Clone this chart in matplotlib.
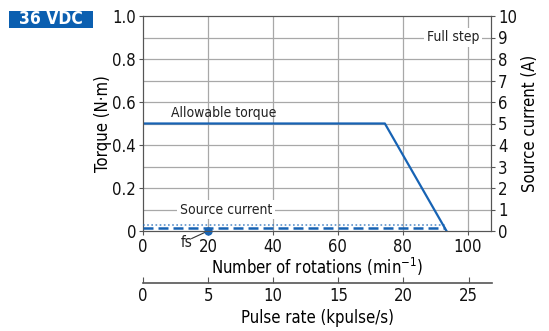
import matplotlib
matplotlib.use("Agg")
import matplotlib.pyplot as plt
from matplotlib.patches import Rectangle

plt.rcParams['font.family'] = ['DejaVu Sans']
plt.rcParams['font.stretch'] = 'condensed'

# data
torque_speed = [0, 74.5, 93.5]          # min^-1
torque_vals = [0.5, 0.5, 0.0]           # N·m
current_speed = [0, 93]                 # min^-1
current_dashed = [0.14, 0.14]           # A
current_dotted = [0.27, 0.27]           # A
fs_speed = 20
speed_ticks = [0, 20, 40, 60, 80, 100]
pulse_ticks = [0, 5, 10, 15, 20, 25]
torque_ticks = [0, 0.2, 0.4, 0.6, 0.8, 1.0]
torque_labels = ['0', '0.2', '0.4', '0.6', '0.8', '1.0']
current_ticks = list(range(0, 11))

blue = '#1763b4'
grid = '#a8a8a8'
spine = '#555555'
xmax = 107.2

fig = plt.figure(figsize=(5.49, 3.31), dpi=100)
ax = fig.add_axes([143 / 549, 1 - 231 / 331, 348 / 549, 215 / 331])
ax.set_xlim(0, xmax)
ax.set_ylim(0, 1.0)

for y in [i / 10 for i in range(1, 10)]:
    ax.axhline(y, color=grid, lw=0.9, zorder=1)
for x in speed_ticks[1:]:
    ax.axvline(x, color=grid, lw=0.9, zorder=1)

ax.plot(torque_speed, torque_vals, color=blue, lw=1.6, zorder=3)

ax2 = ax.twinx()
ax2.set_ylim(0, 10)
ax2.plot(current_speed, current_dashed, color=blue, lw=1.8, ls=(0, (4, 2)), zorder=3)
ax2.plot(current_speed, current_dotted, color=blue, lw=1.2, ls=(0, (1, 1.5)), alpha=0.7, zorder=3)

ax.plot([fs_speed], [0], 'o', color=blue, ms=5, clip_on=False, zorder=5)
ax.plot([15, fs_speed], [-0.035, 0], color='#333333', lw=0.8, clip_on=False, zorder=4)
ax.text(13.5, -0.055, 'fs', fontsize=11, ha='center', va='center', color='#222222')

ax.text(25, 0.55, 'Allowable torque', fontsize=10, ha='center', va='center', color='#222222')
ax.text(25.5, 0.1, 'Source current', fontsize=10, ha='center', va='center', color='#222222',
        bbox=dict(facecolor='white', edgecolor='none', pad=2), zorder=4)
ax.text(95.5, 0.9, 'Full step', fontsize=10, ha='center', va='center', color='#222222',
        bbox=dict(facecolor='white', edgecolor='none', pad=2), zorder=4)

for a in (ax, ax2):
    for s in a.spines.values():
        s.set_color(spine)
ax.set_xticks(speed_ticks)
ax.set_yticks(torque_ticks)
ax.set_yticklabels(torque_labels)
ax2.set_yticks(current_ticks)
ax.tick_params(axis='both', labelsize=12, colors=spine, labelcolor='#111111', length=3, pad=2)
ax2.tick_params(axis='y', labelsize=12, colors=spine, labelcolor='#111111', length=3, pad=2)
ax.set_ylabel('Torque (N·m)', fontsize=12, labelpad=0)
ax2.set_ylabel('Source current (A)', fontsize=12, labelpad=3)
ax.set_xlabel('Number of rotations (min$^{-1}$)', fontsize=12, labelpad=0)

# pulse rate axis
axp = fig.add_axes([143 / 549, 1 - 283 / 331, 349 / 549, 0.001])
axp.set_xlim(0, xmax / 4)
axp.set_yticks([])
for k in ('top', 'left', 'right'):
    axp.spines[k].set_visible(False)
axp.spines['bottom'].set_color(spine)
axp.spines['bottom'].set_linewidth(1.2)
axp.set_xticks(pulse_ticks)
axp.tick_params(axis='x', direction='in', length=4, labelsize=12, colors=spine, labelcolor='#111111', pad=3)
axp.set_xlabel('Pulse rate (kpulse/s)', fontsize=12, labelpad=3)
axp.patch.set_alpha(0)

# badge
fig.patches.append(Rectangle((9 / 549, 1 - 28 / 331), 84 / 549, 17 / 331, transform=fig.transFigure,
                             facecolor='#0b5fb0', edgecolor='none'))
fig.text(51 / 549, 1 - 19.5 / 331, '36 VDC', color='white', fontsize=12.5, fontweight='bold',
         ha='center', va='center')

fig.savefig('out.png', dpi=100)
